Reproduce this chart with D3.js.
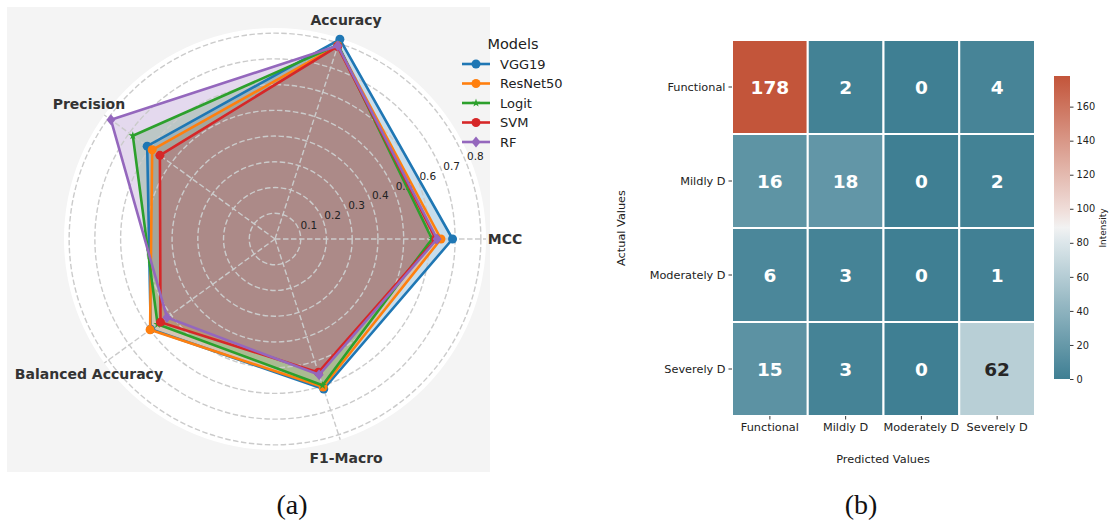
<!DOCTYPE html>
<html>

<head>
    <meta charset="utf-8">
    <title>Radar + confusion matrix</title>
    <script src="https://cdn.jsdelivr.net/npm/d3@7"></script>
</head>

<style>
    body {
        margin: 0px;
        background-color: white;
        overflow: hidden;
    }

    text {
        font-family: "DejaVu Sans", sans-serif;
    }

    text.caption {
        font-family: "Liberation Serif", "DejaVu Serif", serif;
    }
</style>

<body>
    <svg id="svg"></svg>

    <script>
        // ---- data: panel (a) radar ----
        var metrics = ["MCC", "Accuracy", "Precision", "Balanced Accuracy", "F1-Macro"]
        var models = ["VGG19", "ResNet50", "Logit", "SVM", "RF"]
        var vgg19 = [0.690, 0.816, 0.614, 0.597, 0.613]
        var resnet50 = [0.645, 0.790, 0.590, 0.600, 0.605]
        var logit = [0.610, 0.793, 0.683, 0.564, 0.598]
        var svm = [0.625, 0.787, 0.553, 0.550, 0.545]
        var rf = [0.630, 0.790, 0.788, 0.519, 0.555]
        var rTicks = [0.1, 0.2, 0.3, 0.4, 0.5, 0.6, 0.7, 0.8]

        // ---- data: panel (b) confusion matrix ----
        var classes = ["Functional", "Mildly D", "Moderately D", "Severely D"]
        var counts = [
            [178, 2, 0, 4],
            [16, 18, 0, 2],
            [6, 3, 0, 1],
            [15, 3, 0, 62]
        ]
        var cbarTicks = [0, 20, 40, 60, 80, 100, 120, 140, 160]

        var width = 1111
        var height = 522

        var svg = d3.select("svg")
            .attr("width", width)
            .attr("height", height)

        // ================= (a) radar =================
        var series = [vgg19, resnet50, logit, svm, rf]
        var colors = ["#1f77b4", "#ff7f0e", "#2ca02c", "#d62728", "#9467bd"]
        var markers = ["circle", "circle", "star", "circle", "diamond"]

        svg.append("rect")
            .attr("x", 7).attr("y", 7)
            .attr("width", 483).attr("height", 465)
            .attr("fill", "#f4f4f4")

        var cx = 275, cy = 239, R = 211
        var radar = svg.append("g").attr("transform", "translate(" + cx + "," + cy + ")")

        var r = d3.scaleLinear().domain([0, 0.82]).range([0, R])
        // theta counter-clockwise from east, converted to d3's clockwise-from-north angle
        var angle = d3.scalePoint().domain(metrics).range([0, 2 * Math.PI * 4 / 5])
        function a(i) { return Math.PI / 2 - angle(metrics[i]) }
        function px(v, i) { return r(v) * Math.sin(a(i)) }
        function py(v, i) { return -r(v) * Math.cos(a(i)) }

        radar.append("circle").attr("r", R).attr("fill", "white")

        var radial = d3.lineRadial()
            .angle(function (d, i) { return a(i) })
            .radius(function (d) { return r(d) })
            .curve(d3.curveLinearClosed)

        var fills = radar.append("g")
        var grid = radar.append("g")
        var lines = radar.append("g")

        series.forEach(function (s, k) {
            fills.append("path")
                .attr("d", radial(s))
                .attr("fill", colors[k])
                .attr("fill-opacity", 0.25)
        })

        grid.selectAll("circle")
            .data(rTicks)
            .join("circle")
            .attr("r", function (d) { return r(d) })
            .attr("fill", "none")
            .attr("stroke", "#cbcbcb")
            .attr("stroke-width", 1.4)
            .attr("stroke-dasharray", "5.5,2.5")

        grid.selectAll("line")
            .data(metrics)
            .join("line")
            .attr("x1", 0).attr("y1", 0)
            .attr("x2", function (d, i) { return px(0.82, i) })
            .attr("y2", function (d, i) { return py(0.82, i) })
            .attr("stroke", "#cbcbcb")
            .attr("stroke-width", 1.4)
            .attr("stroke-dasharray", "5.5,2.5")

        var labAng = Math.PI / 8
        grid.selectAll("text")
            .data(rTicks)
            .join("text")
            .attr("x", function (d) { return (r(d) + 11) * Math.cos(labAng) })
            .attr("y", function (d) { return -(r(d) + 11) * Math.sin(labAng) })
            .attr("text-anchor", "middle")
            .attr("dominant-baseline", "central")
            .attr("font-size", 10.5)
            .attr("fill", "#222")
            .text(function (d) { return d })

        function marker(sel, type, color) {
            if (type == "circle") {
                sel.append("circle").attr("r", 4.5).attr("fill", color)
            } else if (type == "diamond") {
                sel.append("path").attr("d", "M0,-5.5L4.5,0L0,5.5L-4.5,0Z").attr("fill", color)
            } else {
                sel.append("path").attr("d", d3.symbol(d3.symbolStar, 22)()).attr("fill", color)
            }
        }

        series.forEach(function (s, k) {
            lines.append("path")
                .attr("d", radial(s))
                .attr("fill", "none")
                .attr("stroke", colors[k])
                .attr("stroke-width", 2.6)
                .attr("stroke-linejoin", "round")
            s.forEach(function (v, i) {
                var m = lines.append("g").attr("transform", "translate(" + px(v, i) + "," + py(v, i) + ")")
                marker(m, markers[k], colors[k])
            })
        })

        radar.append("g").selectAll("text")
            .data(metrics)
            .join("text")
            .attr("x", function (d, i) { return (R + 19) * Math.sin(a(i)) })
            .attr("y", function (d, i) { return -(R + 19) * Math.cos(a(i)) })
            .attr("text-anchor", "middle")
            .attr("dominant-baseline", "central")
            .attr("font-size", 14)
            .attr("font-weight", "bold")
            .attr("fill", "#333")
            .text(function (d) { return d })

        // legend
        var legend = svg.append("g").attr("transform", "translate(462,44)")
        legend.append("text")
            .attr("x", 51).attr("y", 0)
            .attr("text-anchor", "middle")
            .attr("dominant-baseline", "central")
            .attr("font-size", 14.5)
            .attr("fill", "#222")
            .text("Models")
        models.forEach(function (m, k) {
            var row = legend.append("g").attr("transform", "translate(0," + (20 + k * 19.5) + ")")
            row.append("line")
                .attr("x1", 0).attr("x2", 28)
                .attr("stroke", colors[k]).attr("stroke-width", 2.6)
            marker(row.append("g").attr("transform", "translate(14,0)"), markers[k], colors[k])
            row.append("text")
                .attr("x", 38)
                .attr("dominant-baseline", "central")
                .attr("font-size", 13)
                .attr("fill", "#222")
                .text(m)
        })

        // ================= (b) heatmap =================
        var x = d3.scaleBand().domain(classes).range([732, 1035])
        var y = d3.scaleBand().domain(classes).range([40, 416])
        var vmax = d3.max(counts, function (row) { return d3.max(row) })

        var color = d3.scaleLinear()
            .domain([0, 0.496 * vmax, 0.5 * vmax, 0.504 * vmax, vmax])
            .range(["#3f7f93", "#ecf1f3", "#f2f2f2", "#f5eeed", "#c3553a"])
            .interpolate(d3.interpolateRgb)

        var cells = []
        counts.forEach(function (row, i) {
            row.forEach(function (v, j) {
                cells.push({ actual: classes[i], pred: classes[j], value: v })
            })
        })

        var hm = svg.append("g")
        hm.selectAll("rect")
            .data(cells)
            .join("rect")
            .attr("x", function (d) { return x(d.pred) })
            .attr("y", function (d) { return y(d.actual) })
            .attr("width", x.bandwidth())
            .attr("height", y.bandwidth())
            .attr("fill", function (d) { return color(d.value) })
            .attr("stroke", "white")
            .attr("stroke-width", 2)

        hm.selectAll("text")
            .data(cells)
            .join("text")
            .attr("x", function (d) { return x(d.pred) + x.bandwidth() / 2 })
            .attr("y", function (d) { return y(d.actual) + y.bandwidth() / 2 })
            .attr("text-anchor", "middle")
            .attr("dominant-baseline", "central")
            .attr("font-size", 18.5)
            .attr("font-weight", "bold")
            .attr("fill", function (d) { return d.value > 50 && d.value < 130 ? "#262626" : "white" })
            .text(function (d) { return d.value })

        var xAxis = svg.append("g")
            .attr("transform", "translate(0,416)")
            .call(d3.axisBottom(x).tickSize(3.5).tickPadding(3))
        var yAxis = svg.append("g")
            .attr("transform", "translate(732,0)")
            .call(d3.axisLeft(y).tickSize(3.5).tickPadding(3))
        ;[xAxis, yAxis].forEach(function (ax) {
            ax.select(".domain").remove()
            ax.selectAll("line").attr("stroke", "#222").attr("stroke-width", 0.9)
            ax.selectAll("text").attr("font-size", 11.3).attr("fill", "#222")
                .attr("font-family", "DejaVu Sans, sans-serif")
        })

        svg.append("text")
            .attr("x", 883).attr("y", 459)
            .attr("text-anchor", "middle")
            .attr("dominant-baseline", "central")
            .attr("font-size", 11.3)
            .attr("fill", "#222")
            .text("Predicted Values")

        svg.append("text")
            .attr("transform", "translate(621,228) rotate(-90)")
            .attr("text-anchor", "middle")
            .attr("dominant-baseline", "central")
            .attr("font-size", 11.3)
            .attr("fill", "#222")
            .text("Actual Values")

        // colorbar
        var cb = d3.scaleLinear().domain([0, vmax]).range([379, 76])
        var defs = svg.append("defs")
        var grad = defs.append("linearGradient")
            .attr("id", "cbgrad")
            .attr("x1", 0).attr("y1", 1).attr("x2", 0).attr("y2", 0)
        d3.range(0, 1.0001, 0.05).forEach(function (t) {
            grad.append("stop")
                .attr("offset", t)
                .attr("stop-color", color(t * vmax))
        })
        svg.append("rect")
            .attr("x", 1054).attr("y", 76)
            .attr("width", 16).attr("height", 303)
            .attr("fill", "url(#cbgrad)")

        var cbAxis = svg.append("g")
            .attr("transform", "translate(1070,0)")
            .call(d3.axisRight(cb).tickValues(cbarTicks).tickSize(3.5).tickPadding(3))
        cbAxis.select(".domain").remove()
        cbAxis.selectAll("line").attr("stroke", "#222").attr("stroke-width", 0.9)
        cbAxis.selectAll("text").attr("font-size", 9.8).attr("fill", "#222")
            .attr("font-family", "DejaVu Sans, sans-serif")

        svg.append("text")
            .attr("transform", "translate(1103,228) rotate(-90)")
            .attr("text-anchor", "middle")
            .attr("dominant-baseline", "central")
            .attr("font-size", 9)
            .attr("fill", "#222")
            .text("Intensity")

        // captions
        svg.selectAll("text.caption")
            .data([{ x: 292, t: "(a)" }, { x: 861, t: "(b)" }])
            .join("text")
            .attr("class", "caption")
            .attr("x", function (d) { return d.x })
            .attr("y", 504)
            .attr("text-anchor", "middle")
            .attr("dominant-baseline", "central")
            .attr("font-size", 28)
            .attr("fill", "#111")
            .text(function (d) { return d.t })
    </script>
</body>

</html>
